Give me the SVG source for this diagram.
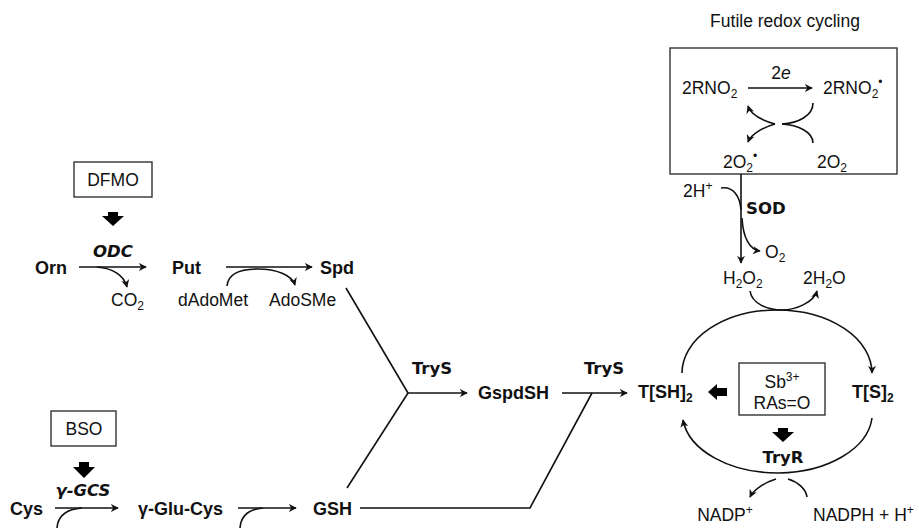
<svg xmlns="http://www.w3.org/2000/svg" width="919" height="528" viewBox="0 0 919 528">
<style>
  .n { font-family: "Liberation Sans", Arial, sans-serif; font-size: 17.5px; fill: #111; }
  .b { font-family: "Liberation Sans", Arial, sans-serif; font-size: 18px; font-weight: bold; fill: #111; }
  .e { font-family: "DejaVu Sans", sans-serif; font-size: 16.5px; font-weight: bold; fill: #111; }
  .s { font-size: 12px; }
  .ln { fill: none; stroke: #111; stroke-width: 1.6; }
  .box { fill: #fff; stroke: #333; stroke-width: 1.4; }
  .blk { fill: #000; }
</style>
<defs>
  <marker id="ah" viewBox="0 0 10 10" refX="9" refY="5" markerWidth="8" markerHeight="8" markerUnits="userSpaceOnUse" orient="auto">
    <path d="M0,0 L10,5 L0,10 L3,5 z" fill="#111"/>
  </marker>
</defs>

<!-- Title -->
<text id="title" class="n" x="785" y="27" text-anchor="middle">Futile redox cycling</text>

<!-- Futile redox box -->
<g id="redox">
  <rect class="box" x="670" y="48" width="227" height="126"/>
  <text class="n" x="682" y="94">2RNO<tspan class="s" dy="4">2</tspan></text>
  <text class="n" x="781" y="79" text-anchor="middle">2<tspan font-style="italic">e</tspan></text>
  <text class="n" x="823" y="94">2RNO<tspan class="s" dy="4">2</tspan><tspan class="s" dy="-12">•</tspan></text>
  <text class="n" x="723" y="168">2O<tspan class="s" dy="4">2</tspan><tspan class="s" dy="-12">•</tspan></text>
  <text class="n" x="817" y="168">2O<tspan class="s" dy="4">2</tspan></text>
</g>

<g id="sod-node">
  <text class="n" x="683" y="197">2H<tspan class="s" dy="-7">+</tspan></text>
  <text class="e" x="746" y="214">SOD</text>
  <text class="n" x="765" y="258">O<tspan class="s" dy="4">2</tspan></text>
</g>
<g id="h2o2">
  <text class="n" x="723" y="284">H<tspan class="s" dy="4">2</tspan><tspan dy="-4">O</tspan><tspan class="s" dy="4">2</tspan></text>
</g>
<g id="h2o">
  <text class="n" x="803" y="284">2H<tspan class="s" dy="4">2</tspan><tspan dy="-4">O</tspan></text>
</g>

<g id="tsh2"><text class="b" x="638" y="398">T[SH]<tspan class="s" dy="4">2</tspan></text></g>
<g id="ts2"><text class="b" x="852" y="398">T[S]<tspan class="s" dy="4">2</tspan></text></g>

<g id="sb-box">
  <rect class="box" x="739" y="363" width="86" height="52"/>
  <text class="n" x="782" y="388" text-anchor="middle">Sb<tspan class="s" dy="-7">3+</tspan></text>
  <text class="n" x="782" y="409" text-anchor="middle">RAs=O</text>
  <polygon class="blk" points="708,392 717,384 717,388 727,388 727,396 717,396 717,400"/>
  <polygon class="blk" points="778,428 788,428 788,432 794,432 783,442 772,432 778,432"/>
</g>
<g id="tryr"><text class="e" x="783" y="463" text-anchor="middle">TryR</text></g>
<g id="nadp">
  <text class="n" x="725" y="521" text-anchor="middle">NADP<tspan class="s" dy="-7">+</tspan></text>
  <text class="n" x="813" y="521">NADPH + H<tspan class="s" dy="-7">+</tspan></text>
</g>

<!-- Left: polyamine -->
<g id="dfmo">
  <rect class="box" x="74" y="162" width="78" height="35"/>
  <text class="n" x="113" y="186" text-anchor="middle">DFMO</text>
  <polygon class="blk" points="108,212 118,212 118,216 124,216 113,226 102,216 108,216"/>
</g>
<g id="odc"><text class="e" x="113" y="257" text-anchor="middle" font-style="italic">ODC</text></g>
<g id="orn"><text class="b" x="35" y="274">Orn</text></g>
<g id="co2"><text class="n" x="111" y="306">CO<tspan class="s" dy="4">2</tspan></text></g>
<g id="put"><text class="b" x="172" y="274">Put</text></g>
<g id="dadomet"><text class="n" x="178" y="306">dAdoMet</text></g>
<g id="adosme"><text class="n" x="269" y="306">AdoSMe</text></g>
<g id="spd"><text class="b" x="320" y="274">Spd</text></g>

<g id="trys1"><text class="e" x="432" y="374" text-anchor="middle">TryS</text></g>
<g id="gspdsh"><text class="b" x="478" y="399">GspdSH</text></g>
<g id="trys2"><text class="e" x="604" y="374" text-anchor="middle">TryS</text></g>

<!-- glutathione -->
<g id="bso">
  <rect class="box" x="51" y="411" width="65" height="35"/>
  <text class="n" x="84" y="435" text-anchor="middle">BSO</text>
  <polygon class="blk" points="79,462 89,462 89,467 95,467 84,478 73,467 79,467"/>
</g>
<g id="gcs"><text class="e" x="83" y="496" text-anchor="middle" font-style="italic">γ-GCS</text></g>
<g id="cys"><text class="b" x="10" y="515">Cys</text></g>
<g id="glucys"><text class="b" x="138" y="515">γ-Glu-Cys</text></g>
<g id="gsh"><text class="b" x="313" y="515">GSH</text></g>

<!-- Connectors -->
<g id="connectors">
  <!-- redox box -->
  <line class="ln" x1="748" y1="88" x2="812" y2="88" marker-end="url(#ah)"/>
  <path class="ln" d="M775,124 C764,121 751,115 748,106" marker-end="url(#ah)"/>
  <path class="ln" d="M775,124 C764,127 751,134 748,142" marker-end="url(#ah)"/>
  <path class="ln" d="M813,103 C813,116 798,123 782,124"/>
  <path class="ln" d="M782,124 C798,125 813,132 813,143"/>
  <!-- SOD -->
  <line class="ln" x1="741" y1="174" x2="741" y2="263" marker-end="url(#ah)"/>
  <path class="ln" d="M721,188 C733,186 740,196 741,210"/>
  <path class="ln" d="M742,218 C743,238 750,250 760,251" marker-end="url(#ah)"/>
  <!-- H2O2 to 2H2O -->
  <path class="ln" d="M750,291 C752,304 768,310 782,310 C796,310 814,302 817,291" marker-end="url(#ah)"/>
  <!-- cycle -->
  <path class="ln" d="M682,373 A95,63 0 0 1 872,373" marker-end="url(#ah)"/>
  <path class="ln" d="M872,418 A95,60 0 0 1 683,420" marker-end="url(#ah)"/>
  <path class="ln" d="M776,479 C766,482 754,489 750,497" marker-end="url(#ah)"/>
  <path class="ln" d="M788,479 C798,482 806,489 807,497"/>
  <!-- polyamine -->
  <line class="ln" x1="79" y1="267" x2="146" y2="267" marker-end="url(#ah)"/>
  <path class="ln" d="M97,267 C112,268 124,275 127,287" marker-end="url(#ah)"/>
  <line class="ln" x1="226" y1="267" x2="312" y2="267" marker-end="url(#ah)"/>
  <path class="ln" d="M227,286 C228,274 240,269 258,269 C276,269 292,275 295,285" marker-end="url(#ah)"/>
  <line class="ln" x1="346" y1="288" x2="408" y2="393"/>
  <line class="ln" x1="347" y1="488" x2="408" y2="393"/>
  <line class="ln" x1="408" y1="393" x2="467" y2="393" marker-end="url(#ah)"/>
  <line class="ln" x1="562" y1="393" x2="627" y2="393" marker-end="url(#ah)"/>
  <polyline class="ln" points="360,508 530,508 592,393"/>
  <!-- glutathione -->
  <line class="ln" x1="55" y1="508" x2="118" y2="508" marker-end="url(#ah)"/>
  <path class="ln" d="M57,528 C58,515 68,509 82,508"/>
  <line class="ln" x1="238" y1="508" x2="296" y2="508" marker-end="url(#ah)"/>
  <path class="ln" d="M240,528 C241,515 250,509 263,508"/>
</g>
</svg>
